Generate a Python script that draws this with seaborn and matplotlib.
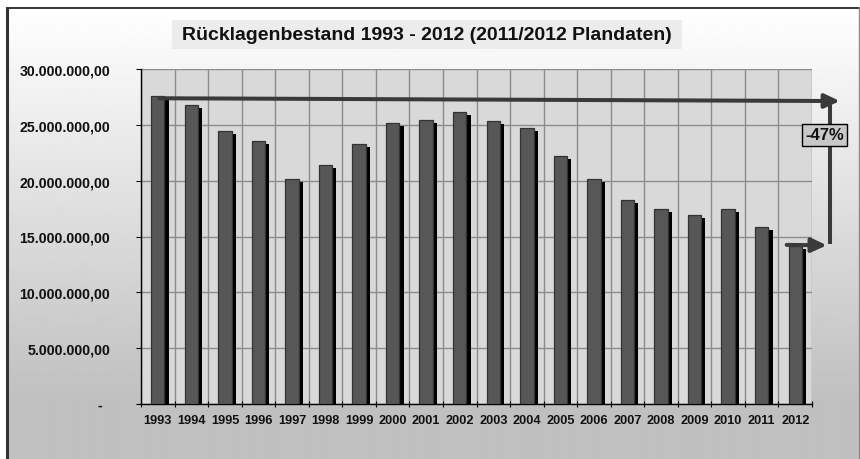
import numpy as np
import pandas as pd
import matplotlib
matplotlib.use("Agg")
import matplotlib.pyplot as plt
from matplotlib.patches import FancyArrowPatch, Rectangle
from matplotlib.ticker import FuncFormatter, MultipleLocator
import seaborn as sns

# ---------------- data ----------------
YEARS = ["1993", "1994", "1995", "1996", "1997", "1998", "1999", "2000", "2001", "2002",
         "2003", "2004", "2005", "2006", "2007", "2008", "2009", "2010", "2011", "2012"]
VALUES = [27610000, 26780000, 24480000, 23550000, 20120000, 21370000, 23300000, 25130000,
          25450000, 26120000, 25340000, 24690000, 22240000, 20120000, 18240000, 17490000,
          16950000, 17490000, 15820000, 14120000]
TITLE = "Rücklagenbestand 1993 - 2012 (2011/2012 Plandaten)"
CHANGE_LABEL = "-47%"

sns.set_style("ticks")
plt.rcParams["font.family"] = ["Liberation Sans", "DejaVu Sans"]
plt.rcParams["font.weight"] = "bold"

W, H = 860, 460
fig = plt.figure(figsize=(W / 100, H / 100), dpi=100, facecolor="white")

# ---------- background (pixel coordinates) ----------
bg = fig.add_axes([0, 0, 1, 1], zorder=-10)
bg.set_xlim(0, W)
bg.set_ylim(H, 0)
bg.axis("off")
rows = np.arange(8, H)
shade = np.clip(1.0 - (rows - 8) / (400 - 8) * (1 - 0.753), 0.753, 1.0)
grad = np.repeat(shade[:, None], 2, axis=1)
bg.imshow(grad, cmap="gray", vmin=0, vmax=1, extent=[6, W, H, 8], aspect="auto",
          interpolation="bilinear")
bg.plot([6.5, 6.5], [8, H], color="#333333", lw=2.2, solid_capstyle="butt")
bg.plot([6, W], [8.5, 8.5], color="#333333", lw=1.4, solid_capstyle="butt")
bg.plot([858.5, 858.5], [8, H], color="#8a8a8a", lw=1.0)
bg.add_patch(Rectangle((172, 21), 510, 29, facecolor="#ececec", edgecolor="none"))
bg.text(427, 36, TITLE, ha="center", va="center", fontsize=14, fontweight="bold",
        color="#111111")

# ---------------- main axes ----------------
ax = fig.add_axes([141 / W, 55 / H, 671 / W, 335 / H])
ax.set_facecolor("#d9d9d9")
df = pd.DataFrame({"Jahr": YEARS, "Wert": VALUES})

pos = np.arange(len(VALUES))
drop = 270000
ax.bar(pos + 0.19, np.array(VALUES) - drop, width=0.135, align="edge",
       color="black", edgecolor="none", zorder=2)
sns.barplot(data=df, x="Jahr", y="Wert", color="#575757", saturation=1, width=0.4,
            edgecolor="#333333", linewidth=0.9, ax=ax, zorder=3, errorbar=None)

ax.set_xlim(-0.5, len(VALUES) - 0.5)
ax.set_ylim(0, 30000000)
ax.set_xlabel("")
ax.set_ylabel("")

ax.yaxis.set_major_locator(MultipleLocator(5000000))


def de_fmt(v, _):
    if abs(v) < 1:
        return "-  "
    s = f"{v:,.2f}"
    return s.replace(",", "X").replace(".", ",").replace("X", ".")


ax.yaxis.set_major_formatter(FuncFormatter(de_fmt))
ax.set_xticks(np.arange(-0.5, len(VALUES), 1), minor=True)
ax.set_axisbelow(True)
ax.grid(which="major", axis="y", color="#8c8c8c", lw=1.0)
ax.grid(which="minor", axis="x", color="#8c8c8c", lw=1.0)
ax.grid(which="major", axis="x", visible=False)

for s in ["top", "right"]:
    ax.spines[s].set_visible(False)
for s in ["left", "bottom"]:
    ax.spines[s].set_color("black")
    ax.spines[s].set_linewidth(1.0)

ax.tick_params(axis="y", direction="out", length=3.6, width=0.8, color="black",
               pad=18.5, labelsize=10.2)
ax.tick_params(axis="x", which="major", length=0, pad=7, labelsize=9.2)
ax.tick_params(axis="x", which="minor", direction="inout", length=4.5, width=0.8,
               color="black")
for lab in ax.get_xticklabels() + ax.get_yticklabels():
    lab.set_fontweight("bold")
    lab.set_color("#111111")

# ---------------- change annotation ----------------
arrow_color = "#3a3a3a"
top_y_end = VALUES[0] - 480000
a1 = FancyArrowPatch((0.04, VALUES[0] - 230000), (20.33, top_y_end),
                     arrowstyle="-|>,head_length=0.9,head_width=0.42", mutation_scale=10,
                     lw=2.9, color=arrow_color, shrinkA=0, shrinkB=0, clip_on=False,
                     zorder=6)
ax.add_patch(a1)
ax.plot([20.05, 20.05], [top_y_end, VALUES[-1] + 180000], color=arrow_color, lw=2.9,
        clip_on=False, zorder=5, solid_capstyle="butt")
a2 = FancyArrowPatch((18.745, VALUES[-1] + 130000), (19.94, VALUES[-1] + 90000),
                     arrowstyle="-|>,head_length=0.9,head_width=0.42", mutation_scale=10,
                     lw=2.9, color=arrow_color, shrinkA=0, shrinkB=0, clip_on=False,
                     zorder=6)
ax.add_patch(a2)
ax.text(19.87, 24090000, CHANGE_LABEL, ha="center", va="center", fontsize=12,
        fontweight="bold", color="#111111", zorder=7, clip_on=False,
        bbox=dict(boxstyle="square,pad=0.2", facecolor="#c8c8c8", edgecolor="black",
                  lw=1.0))

fig.savefig("out.png", dpi=100)
